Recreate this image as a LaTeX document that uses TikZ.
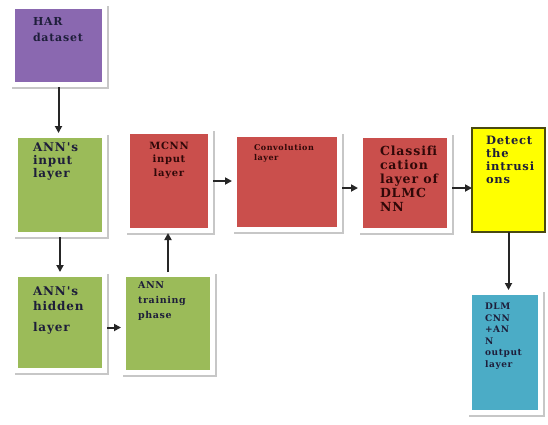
\documentclass[tikz,border=0pt]{standalone}
\usepackage{fontspec}
\setmainfont{DejaVu Serif}
\newfontfamily\bk[LetterSpace=7,Ligatures=NoCommon]{DejaVu Serif}
\usetikzlibrary{arrows.meta,calc}

\definecolor{harpurple}{HTML}{8A68B0}
\definecolor{anngreen}{HTML}{9BBB59}
\definecolor{cnnred}{HTML}{CA4F4C}
\definecolor{detyellow}{HTML}{FFFF00}
\definecolor{detedge}{HTML}{4A4A10}
\definecolor{outblue}{HTML}{4BACC6}
\definecolor{inknavy}{HTML}{1E1E3A}
\definecolor{inkred}{HTML}{300808}

% width, height, left pad, top pad, content
\newcommand{\boxtext}[5]{%
  \parbox[c][#2pt][t]{#1pt}{\parindent=0pt\leftskip=#3pt\rightskip=0pt plus 1fil\relax
    \vspace*{#4pt}\bk\bfseries#5\par}}

\tikzset{
  blk/.style={anchor=north west, inner sep=0pt, outer sep=5pt, fill=#1,
    preaction={draw=black!22, line width=10pt,
      transform canvas={shift={(2pt,-2pt)}}},
    preaction={draw=white, line width=10pt}},
  detbox/.style={anchor=north west, inner sep=0pt, outer sep=0pt,
    fill=detyellow, draw=detedge, line width=1.5pt},
  conn/.style={draw=black!85, line width=2pt,
    -{Triangle[length=7pt,width=7pt]}},
}

\begin{document}
\begin{tikzpicture}[x=1pt,y=-1pt]
\useasboundingbox[fill=white] (0,0) rectangle (548,424);

% data source and the two ANN layers
\node[blk=harpurple] (har) at (10,4)
  {\boxtext{87}{73}{18}{8}{\color{inknavy}\fontsize{11}{16}\selectfont HAR\\dataset}};
\node[blk=anngreen] (inp) at (13,133)
  {\boxtext{84}{94}{15}{5}{\color{inknavy}\fontsize{12}{13}\selectfont ANN's\\input\\layer}};
\node[blk=anngreen] (hid) at (13,272)
  {\boxtext{84}{91}{15}{10}{\color{inknavy}\fontsize{12}{15}\selectfont ANN's\\hidden\\[6pt]layer}};
\node[blk=anngreen] (trn) at (121,272)
  {\boxtext{84}{93}{12}{5}{\color{inknavy}\fontsize{9.5}{15}\selectfont ANN\\training\\phase}};

% MCNN chain
\node[blk=cnnred] (mcnn) at (125,129)
  {\boxtext{78}{94}{0}{8}{\centering\color{inkred}\fontsize{10}{13.5}\selectfont MCNN\\input\\layer}};
\node[blk=cnnred] (conv) at (232,132)
  {\boxtext{100}{90}{17}{7}{\color{inkred}\fontsize{8}{10.5}\selectfont Convolution\\layer}};
\node[blk=cnnred] (cls) at (358,133)
  {\boxtext{84}{90}{17}{8}{\color{inkred}\fontsize{12.5}{14}\selectfont Classif\kern0pt i\\cation\\layer of\\DLMC\\NN}};
\node[detbox] (det) at (472,128)
  {\boxtext{73}{104}{14}{8}{\color{inknavy}\fontsize{11.5}{13}\selectfont Detect\\the\\intrusi\\ons}};
\node[blk=outblue] (dlm) at (467,290)
  {\boxtext{66}{115}{13}{8}{\color{inknavy}\fontsize{9}{11.5}\selectfont DLM\\CNN\\+AN\\N\\output\\layer}};

% connectors
\draw[conn] (har.south) -- (har.south |- inp.north);
\draw[conn] (inp.south) -- (inp.south |- hid.north);
\draw[conn] ($(hid.east)+(0,5)$) coordinate (h1) -- (h1 -| trn.west);
\draw[conn] (trn.north) -- (trn.north |- mcnn.south);
\draw[conn] (mcnn.east) -- (mcnn.east -| conv.west);
\draw[conn] ($(conv.east)+(0,6)$) coordinate (c1) -- (c1 -| cls.west);
\draw[conn] ($(cls.east)+(0,5)$) coordinate (c2) -- (c2 -| det.west);
\draw[conn] (det.south) -- (det.south |- dlm.north);
\end{tikzpicture}
\end{document}
